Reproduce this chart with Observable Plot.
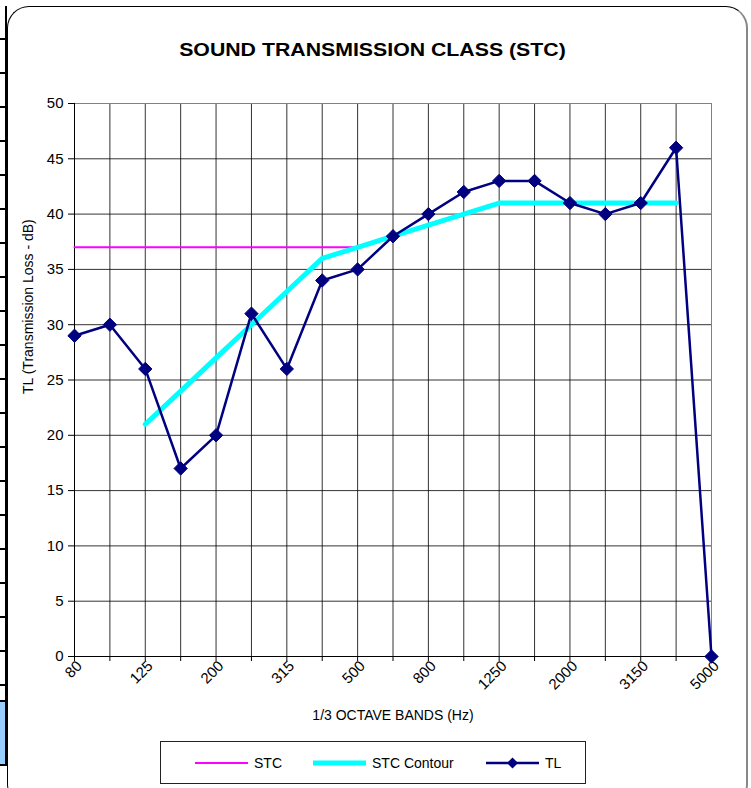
<!DOCTYPE html>
<html>
<head>
<meta charset="utf-8">
<script src="https://cdn.jsdelivr.net/npm/d3@7"></script>
<script src="https://cdn.jsdelivr.net/npm/@observablehq/plot@0.6"></script>
<style>
  html, body { margin: 0; padding: 0; background: #fff; }
  body { width: 751px; height: 788px; position: relative; overflow: hidden; font-family: "Liberation Sans", Arial, sans-serif; }
  #frame { position: absolute; left: 7px; top: 6px; width: 741px; height: 800px; border: 1px solid #000; border-right: 2px solid #888; border-radius: 22px; box-sizing: border-box; }
  #leftcells { position: absolute; left: 0; top: 6px; width: 5px; height: 760px; border-right: 2px solid #000;
    background: repeating-linear-gradient(to bottom, transparent 0px, transparent 32px, #000 32px, #000 34px); }
  #bluecell { position: absolute; left: 0; top: 700px; width: 5px; height: 62px; background: #99ccff; border-top: 2px solid #000; border-bottom: 2px solid #000; }
  #title { position: absolute; left: 0; width: 745px; top: 39.5px; line-height: 19px; text-align: center; font-weight: bold; font-size: 19px; color: #000; transform: scaleX(1.12); transform-origin: 373px 0; }
  #chart { position: absolute; left: 0; top: 0; }
  #legend { position: absolute; left: 160px; top: 741px; width: 426px; height: 43px; border: 1px solid #222; box-sizing: border-box; background: #fff; font-size: 14px; }
  .item { position: absolute; top: 0; height: 41px; display: flex; align-items: center; }
  .item svg { margin-right: 6px; }
</style>
</head>
<body>
<div id="leftcells"></div>
<div id="bluecell"></div>
<div id="frame"></div>
<div id="title">SOUND TRANSMISSION CLASS (STC)</div>
<div id="chart"></div>
<div id="legend">
  <div class="item" style="left:34px"><svg width="53" height="10"><line x1="0" y1="5" x2="53" y2="5" stroke="#ff00ff" stroke-width="2"/></svg>STC</div>
  <div class="item" style="left:152px"><svg width="53" height="10"><line x1="0" y1="5" x2="53" y2="5" stroke="#00ffff" stroke-width="5"/></svg>STC Contour</div>
  <div class="item" style="left:325px"><svg width="53" height="14"><line x1="0" y1="7" x2="53" y2="7" stroke="#000080" stroke-width="2.5"/><path d="M26.5,1.5L32,7L26.5,12.5L21,7Z" fill="#000080"/></svg>TL</div>
</div>
<script>
const bands = ["80","100","125","160","200","250","315","400","500","630","800","1000","1250","1600","2000","2500","3150","4000","5000"];
const tickLabels = ["80","125","200","315","500","800","1250","2000","3150","5000"];
const yTicks = [0,5,10,15,20,25,30,35,40,45,50];
const tlValues = [29,30,26,17,20,31,26,34,35,38,40,42,43,43,41,40,41,46,0];
const contourBands = ["125","160","200","250","315","400","500","630","800","1000","1250","1600","2000","2500","3150","4000"];
const contourValues = [21,24,27,30,33,36,37,38,39,40,41,41,41,41,41,41];
const stcBands = ["80","100","125","160","200","250","315","400","500"];
const stcValue = 37;
const yLabel = "TL (Transmission Loss - dB)";
const xLabel = "1/3 OCTAVE BANDS (Hz)";

const tl = bands.map((b, i) => ({band: b, value: tlValues[i]}));
const contour = contourBands.map((b, i) => ({band: b, value: contourValues[i]}));
const stc = stcBands.map(b => ({band: b, value: stcValue}));

const chart = Plot.plot({
  width: 751,
  height: 788,
  marginLeft: 74,
  marginRight: 40,
  marginTop: 103,
  marginBottom: 132,
  style: {fontFamily: "'Liberation Sans', Arial, sans-serif", fontSize: "15px", color: "#000", background: "transparent", overflow: "visible"},
  x: {type: "point", domain: bands, padding: 0, round: false},
  y: {domain: [0, 50]},
  marks: [
    Plot.gridY(yTicks, {stroke: "#000", strokeOpacity: 0.8}),
    Plot.gridX(bands, {stroke: "#000", strokeOpacity: 0.8}),
    Plot.frame({stroke: "#808080"}),
    Plot.axisY(yTicks, {tickSize: 6, tickPadding: 5, label: null, fontSize: 15}),
    Plot.axisX(bands, {tickSize: 5, tickFormat: () => "", label: null}),
    Plot.axisX(tickLabels, {tickSize: 0, tickPadding: 7, dx: 5, tickRotate: -45, label: null, fontSize: 15}),
    Plot.text([yLabel], {frameAnchor: "left", rotate: -90, dx: -46, dy: 14, fontSize: 14, text: d => d}),
    Plot.text([xLabel], {frameAnchor: "bottom", dy: 63, fontSize: 14, text: d => d}),
    Plot.ruleY([0], {stroke: "#000"}),
    Plot.ruleX([bands[0]], {stroke: "#000"}),
    Plot.line(stc, {x: "band", y: "value", stroke: "#ff00ff", strokeWidth: 2}),
    Plot.line(contour, {x: "band", y: "value", stroke: "#00ffff", strokeWidth: 5}),
    Plot.line(tl, {x: "band", y: "value", stroke: "#000080", strokeWidth: 2.5}),
    Plot.dot(tl, {x: "band", y: "value", symbol: "diamond2", r: 6, fill: "#000080", stroke: "#000080", strokeWidth: 1})
  ]
});
document.getElementById("chart").appendChild(chart);
</script>
</body>
</html>
